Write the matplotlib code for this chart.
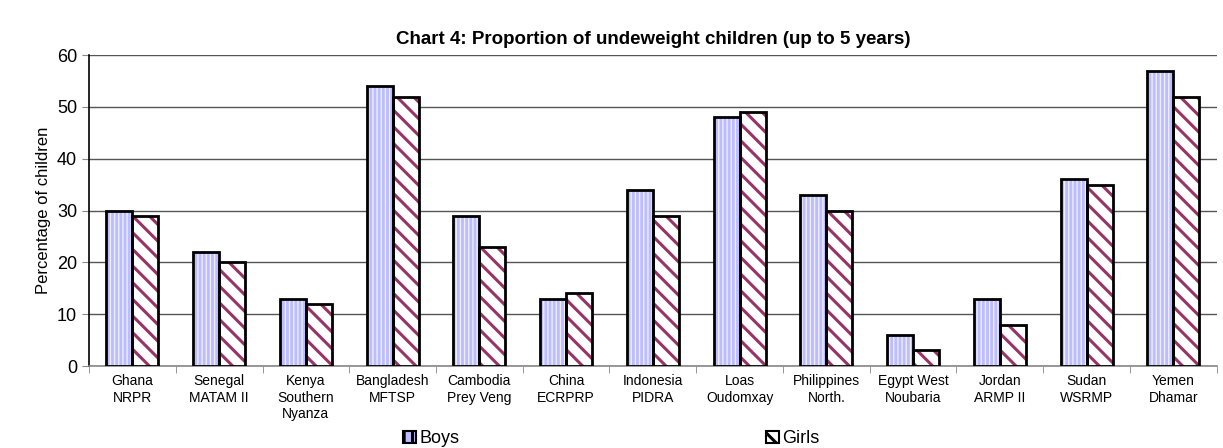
import numpy as np
import matplotlib.pyplot as plt
from matplotlib.patches import Patch

categories = ["Ghana\nNRPR", "Senegal\nMATAM II", "Kenya\nSouthern\nNyanza", "Bangladesh\nMFTSP",
              "Cambodia\nPrey Veng", "China\nECRPRP", "Indonesia\nPIDRA", "Loas\nOudomxay",
              "Philippines\nNorth.", "Egypt West\nNoubaria", "Jordan\nARMP II", "Sudan\nWSRMP", "Yemen\nDhamar"]
boys = [30, 22, 13, 54, 29, 13, 34, 48, 33, 6, 13, 36, 57]
girls = [29, 20, 12, 52, 23, 14, 29, 49, 30, 3, 8, 35, 52]

plt.rcParams['font.family'] = ['Liberation Sans', 'DejaVu Sans']

fig = plt.figure(figsize=(12.23, 4.48), dpi=100)
ax = fig.add_axes([0.0728, 0.183, 0.922, 0.694])

x = np.arange(len(categories))
w = 0.3
# fills with hatching, then black outlines on top
plt.rcParams['hatch.linewidth'] = 1.0
ax.bar(x - w / 2, boys, w, color='#bcbcff', edgecolor='#eeeeff', hatch='||||', linewidth=0, zorder=3)
boys_h = Patch(facecolor='#bcbcff', edgecolor='black', hatch='||', label='Boys', linewidth=1.5)
plt.rcParams['hatch.linewidth'] = 2.2
ax.bar(x + w / 2, girls, w, color='white', edgecolor='#993366', hatch='\\\\', linewidth=0, zorder=3)
girls_h = Patch(facecolor='white', edgecolor='black', hatch='\\\\', label='Girls', linewidth=1.5)
ax.bar(x - w / 2, boys, w, fill=False, edgecolor='black', linewidth=2, zorder=4)
ax.bar(x + w / 2, girls, w, fill=False, edgecolor='black', linewidth=2, zorder=4)

ax.set_xlim(-0.5, len(categories) - 0.5)
ax.set_ylim(0, 60)
ax.set_yticks(range(0, 61, 10))
ax.yaxis.grid(True, color='#555555', linewidth=1)
ax.set_axisbelow(True)
ax.tick_params(axis='y', labelsize=13, direction='out', length=5, color='#888888')
ax.set_xticks(x)
ax.set_xticklabels(categories, fontsize=10, va='top')
ax.tick_params(axis='x', length=0, pad=6)
ax.set_xticks(np.arange(-0.5, len(categories), 1), minor=True)
ax.tick_params(axis='x', which='minor', length=5, direction='out', color='#888888')
for s in ['top', 'right']:
    ax.spines[s].set_visible(False)
ax.spines['left'].set_linewidth(1.2)
ax.spines['bottom'].set_linewidth(1.2)
ax.spines['bottom'].set_color('#888888')

ax.set_ylabel("Percentage of children", fontsize=12)
ax.set_title("Chart 4: Proportion of undeweight children (up to 5 years)", fontsize=13.5,
             fontweight='bold', pad=8)

fig.legend(handles=[boys_h, girls_h], loc='lower center', bbox_to_anchor=(0.5, -0.035), ncol=2,
           frameon=False, fontsize=13, handlelength=0.7, handleheight=0.7, handletextpad=0.2,
           columnspacing=17)

fig.savefig("out.png", dpi=100)
